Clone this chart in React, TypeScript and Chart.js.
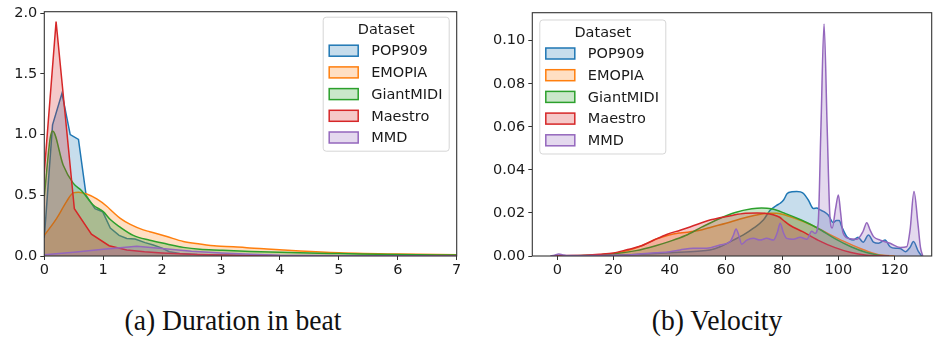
import React, { useEffect, useRef } from 'react';
import { Chart, registerables } from 'chart.js';

Chart.register(...registerables);

// ---------- shared ----------
const seriesNames = ['POP909', 'EMOPIA', 'GiantMIDI', 'Maestro', 'MMD'];
const seriesColors = ['#1f77b4', '#ff7f0e', '#2ca02c', '#d62728', '#9467bd'];

// ---------- (a) Duration in beat ----------
const durPop909X = [0, 0.14, 0.30, 0.44, 0.58, 0.71, 0.86, 0.99, 1.12, 1.27, 1.40, 1.54, 1.71, 1.85, 2.0, 2.12, 2.3, 2.6, 3.0, 3.5, 4.0, 5.0, 6.0, 7.0];
const durPop909Y = [0.15, 1.08, 1.34, 1.0, 0.96, 0.50, 0.39, 0.365, 0.23, 0.17, 0.145, 0.14, 0.11, 0.09, 0.065, 0.035, 0.02, 0.012, 0.008, 0.005, 0.003, 0.002, 0.001, 0.001];
const durEmopiaX = [0, 0.21, 0.38, 0.49, 0.58, 0.72, 0.89, 1.06, 1.17, 1.29, 1.46, 1.68, 1.79, 2.08, 2.36, 2.64, 2.93, 3.21, 3.49, 3.78, 4.06, 4.34, 5.0, 6.0, 7.0];
const durEmopiaY = [0.17, 0.31, 0.45, 0.52, 0.525, 0.51, 0.47, 0.41, 0.36, 0.31, 0.26, 0.215, 0.2, 0.16, 0.12, 0.099, 0.082, 0.077, 0.066, 0.058, 0.049, 0.041, 0.027, 0.016, 0.01];
const durGiantX = [0, 0.10, 0.14, 0.32, 0.49, 0.63, 0.83, 1.0, 1.12, 1.28, 1.51, 1.79, 2.08, 2.36, 2.64, 2.98, 3.5, 4.0, 4.5, 5.0, 6.0, 7.0];
const durGiantY = [0.49, 0.97, 1.03, 0.75, 0.60, 0.54, 0.42, 0.365, 0.30, 0.24, 0.17, 0.13, 0.099, 0.071, 0.055, 0.048, 0.038, 0.03, 0.024, 0.02, 0.012, 0.008];
const durMaestroX = [-0.1, 0.2, 0.51, 0.80, 1.1, 1.4, 1.7, 2.0, 2.3, 2.6, 3.0, 3.5, 4.0, 5.0, 6.0, 7.0];
const durMaestroY = [0.07, 1.93, 0.39, 0.18, 0.085, 0.05, 0.035, 0.025, 0.018, 0.012, 0.008, 0.005, 0.003, 0.001, 0.0005, 0.0002];
const durMmdX = [0, 0.5, 1.0, 1.57, 2.0, 2.5, 3.0, 3.5, 4.0, 5.0, 7.0];
const durMmdY = [0.01, 0.03, 0.055, 0.08, 0.062, 0.04, 0.025, 0.014, 0.006, 0.002, 0.0005];
const durTicksX = [0, 1, 2, 3, 4, 5, 6, 7];
const durTicksY = [0, 0.5, 1.0, 1.5, 2.0];

// ---------- (b) Velocity ----------
const velPop909X = [20, 30, 40, 50, 54.3, 57.9, 62.6, 66.2, 69.8, 73.3, 75.7, 78, 79.3, 80.5, 81.8, 83.5, 85.2, 86.5, 87.6, 89.3, 91.1, 92.3, 93.5, 95, 96.4, 98.2, 99.3, 100.3, 101.2, 103, 105.3, 107, 108.8, 110.7, 112.5, 114.3, 116.6, 118.4, 120.5, 122, 123.8, 125.5, 126.7, 128.5, 129.7];
const velPop909Y = [0.0003, 0.0008, 0.0015, 0.0022, 0.0028, 0.0043, 0.0074, 0.0098, 0.0129, 0.0167, 0.0212, 0.0235, 0.0245, 0.026, 0.029, 0.0298, 0.030, 0.0298, 0.029, 0.026, 0.0221, 0.0223, 0.0214, 0.0205, 0.019, 0.0155, 0.0165, 0.0165, 0.0136, 0.009, 0.0074, 0.0087, 0.0064, 0.0098, 0.0064, 0.0059, 0.0074, 0.0043, 0.0036, 0.0035, 0.002, 0.004, 0.0067, 0.002, 0];
const velEmopiaX = [-2, 10, 20, 25, 30.4, 35, 39.8, 43.7, 47, 51.5, 55, 60, 65, 70, 75, 78, 80, 84.5, 90.4, 96.2, 102, 108, 112.7, 116, 120];
const velEmopiaY = [0, 0.0003, 0.0012, 0.0025, 0.005, 0.0078, 0.0098, 0.0107, 0.0112, 0.0122, 0.0135, 0.0152, 0.0172, 0.0188, 0.0198, 0.0198, 0.0194, 0.0175, 0.0144, 0.0105, 0.0068, 0.0034, 0.0012, 0.0003, 0];
const velGiantX = [0, 10, 20, 28, 35, 40, 45.6, 51.5, 57.4, 63.3, 69.2, 72.7, 76.2, 81, 86.8, 92.7, 98.6, 104.5, 110, 114, 118];
const velGiantY = [0, 0.0002, 0.001, 0.0025, 0.0048, 0.0068, 0.0095, 0.0135, 0.0172, 0.0202, 0.0219, 0.0223, 0.0219, 0.0198, 0.0167, 0.0129, 0.0082, 0.0043, 0.0016, 0.0005, 0];
const velMaestroX = [-2, 5, 10, 15, 20, 25, 29.4, 34.2, 38.9, 43.7, 47.2, 54.6, 62.8, 67, 71, 74, 76.8, 79.1, 80.5, 82.6, 87.3, 92.7, 98.6, 104.5, 110, 115, 118];
const velMaestroY = [0, 0.0002, 0.0004, 0.0008, 0.0014, 0.003, 0.0045, 0.0073, 0.0100, 0.012, 0.0135, 0.0168, 0.019, 0.0198, 0.0200, 0.0198, 0.0192, 0.018, 0.0165, 0.0144, 0.0113, 0.0074, 0.004, 0.0016, 0.0004, 0.0001, 0];
const velMmdX = [-2.5, -1, 0.5, 2, 4, 10, 20, 25, 30, 35, 40, 43.7, 48.4, 53.2, 57.9, 61.5, 62.6, 63.6, 64.6, 65.6, 67.4, 69.8, 72.1, 74.5, 76.9, 78.3, 79.3, 80.4, 81.6, 84, 86.4, 88.8, 90.5, 91.7, 92.8, 93.8, 94.9, 96, 97, 97.8, 99, 100, 100.8, 101.6, 103.6, 106.6, 108.8, 110.1, 111.3, 112.5, 114.9, 118.4, 122, 124.3, 125.5, 126.9, 128.3, 129.2, 130];
const velMmdY = [0, 0.0004, 0.0009, 0.0005, 0.0002, 0.0002, 0.0003, 0.0005, 0.001, 0.0015, 0.002, 0.0028, 0.0036, 0.0036, 0.0051, 0.0067, 0.0095, 0.0125, 0.0095, 0.0055, 0.0074, 0.0082, 0.0074, 0.0082, 0.0074, 0.011, 0.0152, 0.011, 0.0082, 0.0078, 0.0087, 0.0078, 0.0115, 0.0105, 0.015, 0.06, 0.1078, 0.06, 0.018, 0.013, 0.022, 0.0283, 0.02, 0.011, 0.0082, 0.0078, 0.0115, 0.0155, 0.012, 0.009, 0.0074, 0.0059, 0.004, 0.0043, 0.012, 0.0299, 0.015, 0.004, 0];
const velTicksX = [0, 20, 40, 60, 80, 100, 120];
const velTicksY = [0, 0.02, 0.04, 0.06, 0.08, 0.10];

// ---------- helpers ----------
const FONT = "'DejaVu Sans', sans-serif";
const TEXT_COLOR = '#1a1a1a';
const SPINE_COLOR = '#333333';

function rgba(hex: string, a: number) {
  const n = parseInt(hex.slice(1), 16);
  return `rgba(${(n >> 16) & 255},${(n >> 8) & 255},${n & 255},${a})`;
}

function zip(xs: number[], ys: number[]) {
  return xs.map((x, i) => ({ x, y: ys[i] }));
}

const spinePlugin = {
  id: 'spines',
  afterDatasetsDraw(chart: any) {
    const { ctx, chartArea: a } = chart;
    ctx.save();
    ctx.strokeStyle = SPINE_COLOR;
    ctx.lineWidth = 1.1;
    ctx.strokeRect(a.left, a.top, a.right - a.left, a.bottom - a.top);
    ctx.restore();
  },
};

function makeLegendPlugin(side: 'left' | 'right', dy: number) {
  return {
    id: 'kdeLegend',
    afterDraw(chart: any) {
      const { ctx, chartArea: a } = chart;
      const w = 126;
      const h = 134;
      const x0 = side === 'right' ? a.right - 7.5 - w : a.left + 7.5;
      const y0 = a.top + dy;
      ctx.save();
      ctx.beginPath();
      ctx.roundRect(x0, y0, w, h, 3);
      ctx.fillStyle = 'rgba(255,255,255,0.8)';
      ctx.fill();
      ctx.strokeStyle = 'rgba(204,204,204,0.8)';
      ctx.lineWidth = 1;
      ctx.stroke();
      ctx.font = `14.5px ${FONT}`;
      ctx.fillStyle = TEXT_COLOR;
      ctx.textBaseline = 'middle';
      ctx.textAlign = 'center';
      ctx.fillText('Dataset', x0 + w / 2, y0 + 13);
      ctx.textAlign = 'left';
      seriesNames.forEach((name, i) => {
        const cy = y0 + 33.5 + i * 21.7;
        const px = x0 + 6;
        ctx.fillStyle = rgba(seriesColors[i], 0.25);
        ctx.fillRect(px, cy - 5.5, 29, 11);
        ctx.strokeStyle = seriesColors[i];
        ctx.lineWidth = 1.5;
        ctx.strokeRect(px, cy - 5.5, 29, 11);
        ctx.fillStyle = TEXT_COLOR;
        ctx.fillText(name, x0 + 48, cy + 1);
      });
      ctx.restore();
    },
  };
}

type PanelSpec = {
  xs: number[][];
  ys: number[][];
  smooth: boolean[];
  xMin: number;
  xMax: number;
  yMax: number;
  xTicks: number[];
  yTicks: number[];
  xDec: number;
  yDec: number;
  yAxisWidth: number;
  xAxisHeight: number;
  padTop: number;
  padRight: number;
  legendSide: 'left' | 'right';
  legendDy: number;
};

function buildConfig(p: PanelSpec): any {
  const tickFont = { family: FONT, size: 14.5 };
  const grid = {
    display: true,
    drawOnChartArea: false,
    drawTicks: true,
    tickLength: 4,
    color: SPINE_COLOR,
    lineWidth: 1,
  };
  return {
    type: 'line',
    data: {
      datasets: seriesNames.map((name, i) => ({
        label: name,
        data: zip(p.xs[i], p.ys[i]),
        borderColor: seriesColors[i],
        backgroundColor: rgba(seriesColors[i], 0.25),
        borderWidth: 1.5,
        pointRadius: 0,
        fill: 'origin',
        tension: p.smooth[i] ? 0.4 : 0,
        cubicInterpolationMode: p.smooth[i] ? 'monotone' : 'default',
        order: seriesNames.length - 1 - i,
      })),
    },
    options: {
      responsive: false,
      animation: false,
      events: [],
      devicePixelRatio: 1,
      layout: { padding: { top: p.padTop, right: p.padRight, left: 0, bottom: 0 } },
      plugins: { legend: { display: false }, tooltip: { enabled: false }, title: { display: false } },
      scales: {
        x: {
          type: 'linear',
          min: p.xMin,
          max: p.xMax,
          grid,
          border: { display: false },
          afterBuildTicks: (s: any) => {
            s.ticks = p.xTicks.map((v) => ({ value: v }));
          },
          afterFit: (s: any) => {
            s.height = p.xAxisHeight;
          },
          ticks: {
            font: tickFont,
            color: TEXT_COLOR,
            padding: 2,
            maxRotation: 0,
            autoSkip: false,
            callback: (v: any) => Number(v).toFixed(p.xDec),
          },
        },
        y: {
          type: 'linear',
          min: 0,
          max: p.yMax,
          grid,
          border: { display: false },
          afterBuildTicks: (s: any) => {
            s.ticks = p.yTicks.map((v) => ({ value: v }));
          },
          afterFit: (s: any) => {
            s.width = p.yAxisWidth;
          },
          ticks: {
            font: tickFont,
            color: TEXT_COLOR,
            padding: 3,
            autoSkip: false,
            callback: (v: any) => Number(v).toFixed(p.yDec),
          },
        },
      },
    },
    plugins: [spinePlugin, makeLegendPlugin(p.legendSide, p.legendDy)],
  };
}

const durationSpec: PanelSpec = {
  xs: [durPop909X, durEmopiaX, durGiantX, durMaestroX, durMmdX],
  ys: [durPop909Y, durEmopiaY, durGiantY, durMaestroY, durMmdY],
  smooth: [false, true, true, false, false],
  xMin: 0,
  xMax: 7,
  yMax: 2.012,
  xTicks: durTicksX,
  yTicks: durTicksY,
  xDec: 0,
  yDec: 1,
  yAxisWidth: 44.3,
  xAxisHeight: 34,
  padTop: 11.7,
  padRight: 13.3,
  legendSide: 'right',
  legendDy: 5.5,
};

const velocitySpec: PanelSpec = {
  xs: [velPop909X, velEmopiaX, velGiantX, velMaestroX, velMmdX],
  ys: [velPop909Y, velEmopiaY, velGiantY, velMaestroY, velMmdY],
  smooth: [true, true, true, true, true],
  xMin: -8.9,
  xMax: 133.2,
  yMax: 0.113,
  xTicks: velTicksX,
  yTicks: velTicksY,
  xDec: 0,
  yDec: 2,
  yAxisWidth: 62.3,
  xAxisHeight: 34,
  padTop: 12.7,
  padRight: 1.3,
  legendSide: 'left',
  legendDy: 7.3,
};

function Panel({ spec, left, width, height }: { spec: PanelSpec; left: number; width: number; height: number }) {
  const ref = useRef<HTMLCanvasElement>(null);
  useEffect(() => {
    const chart = new Chart(ref.current as HTMLCanvasElement, buildConfig(spec));
    return () => chart.destroy();
  }, [spec]);
  return (
    <canvas
      ref={ref}
      width={width}
      height={height}
      style={{ position: 'absolute', left, top: 0, width, height }}
    />
  );
}

const captionStyle: React.CSSProperties = {
  position: 'absolute',
  top: 305,
  width: 400,
  textAlign: 'center',
  fontFamily: "'Liberation Serif', serif",
  fontSize: 30,
  lineHeight: '30px',
  color: '#111',
  whiteSpace: 'nowrap',
  transform: 'scaleX(0.92)',
  transformOrigin: 'center',
};

export default function App() {
  return (
    <div
      style={{
        position: 'fixed',
        left: 0,
        top: 0,
        width: 933,
        height: 338,
        background: '#fff',
        overflow: 'hidden',
      }}
    >
      <Panel spec={durationSpec} left={0} width={470} height={290} />
      <Panel spec={velocitySpec} left={470} width={463} height={290} />
      <div style={{ ...captionStyle, left: 232.5 - 200 }}>(a) Duration in beat</div>
      <div style={{ ...captionStyle, left: 716.5 - 200 }}>(b) Velocity</div>
    </div>
  );
}
